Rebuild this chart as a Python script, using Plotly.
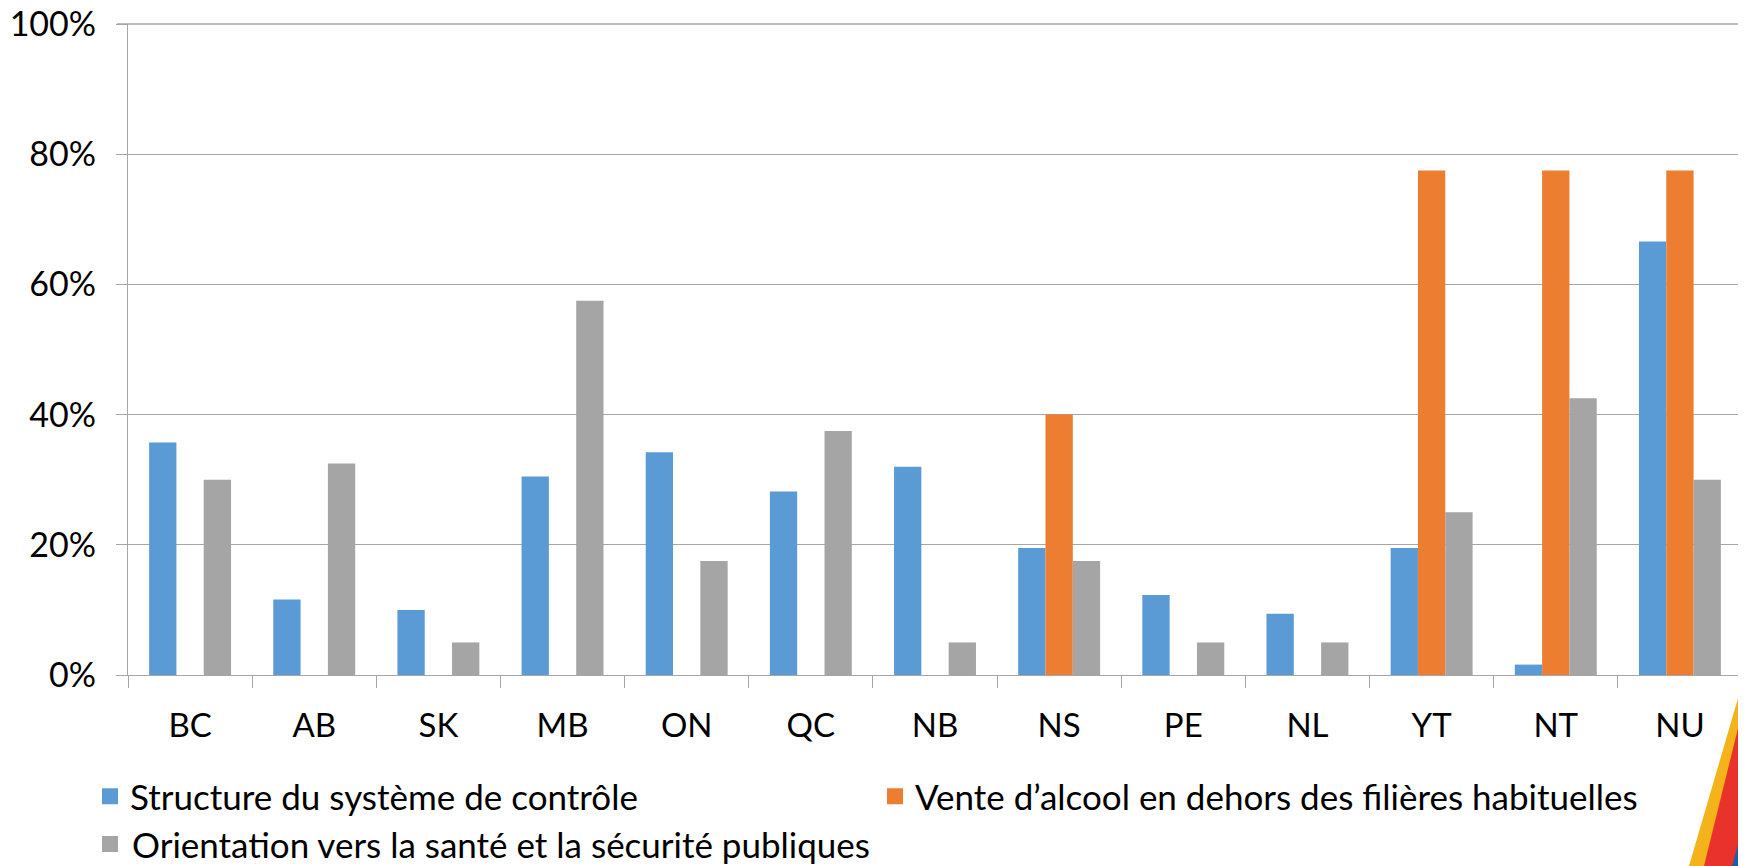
import plotly.graph_objects as go

categories = ["BC", "AB", "SK", "MB", "ON", "QC", "NB", "NS", "PE", "NL", "YT", "NT", "NU"]
structure = [0.357, 0.116, 0.100, 0.305, 0.342, 0.282, 0.320, 0.195, 0.123, 0.094, 0.195, 0.016, 0.666]
vente = [None, None, None, None, None, None, None, 0.40, None, None, 0.775, 0.775, 0.775]
orientation = [0.30, 0.325, 0.05, 0.575, 0.175, 0.375, 0.05, 0.175, 0.05, 0.05, 0.25, 0.425, 0.30]
series_names = [
    "Structure du système de contrôle",
    "Vente d\u2019alcool en dehors des filières habituelles",
    "Orientation vers la santé et la sécurité publiques",
]
colors = ["#5B9BD5", "#ED7D31", "#A5A5A5"]
in_legend_row1 = [True, True, False]

# page body has an 8px margin: the figure is sized to fit the window exactly
OFF = 8
VW, VH = 1746, 866
W, H = VW - OFF, VH - OFF
# plot area in window pixels: x 128..1742, y 24..675
ML = 128 - OFF
MT = 24 - OFF
MR = W - (1742 - OFF)
MB = H - (675 - OFF)
FONT = "Lato, Open Sans, Arial, sans-serif"
GRID = "#A6A6A6"

fig = go.Figure()
for name, vals, col in zip(series_names, [structure, vente, orientation], colors):
    fig.add_trace(go.Bar(x=categories, y=vals, name=name, marker_color=col,
                         marker_line_width=0, showlegend=False))
for name, col, show in zip(series_names, colors, in_legend_row1):
    fig.add_trace(go.Scatter(x=[None], y=[None], mode="markers", name=name, showlegend=show,
                             marker=dict(symbol="square", size=16, color=col)))

# helpers: window pixels -> paper coordinates
pw, ph = W - ML - MR, H - MT - MB
def px(x, y):
    x, y = x - OFF, y - OFF
    return (x - ML) / pw, (H - MB - y) / ph
def path(pts):
    s = ""
    for i, (x, y) in enumerate(pts):
        a, b = px(x, y)
        s += ("M" if i == 0 else "L") + f"{a},{b} "
    return s + "Z"

# decorative slide stripes (bottom-right corner)
stripes = [
    ([(1746, 660), (1746, 866), (1689, 866), (1741, 688)], "#F5B31B"),
    ([(1746, 696), (1746, 866), (1704, 866)], "#E8322B"),
    ([(1746, 815), (1746, 866), (1732, 866)], "#1F5FA8"),
]
shapes = [dict(type="path", xref="paper", yref="paper", path=path(p), fillcolor=c,
               line=dict(width=0), layer="below") for p, c in stripes]
# top gridline (100%) including its tick stub
shapes.append(dict(type="line", xref="paper", yref="paper", x0=-11 / pw, x1=1, y0=1, y1=1,
                   line=dict(color=GRID, width=1.3), layer="below"))

# second legend row (third series): swatch + label
ROW2_Y = 844
sx0, sy0 = px(102, ROW2_Y + 8)
sx1, sy1 = px(118, ROW2_Y - 8)
shapes.append(dict(type="rect", xref="paper", yref="paper", x0=sx0, y0=sy0, x1=sx1, y1=sy1,
                   fillcolor=colors[2], line=dict(width=0)))
tx, ty = px(130, ROW2_Y)
annotations = [dict(text=series_names[2], xref="paper", yref="paper", x=tx, y=ty,
                    xanchor="left", yanchor="middle", showarrow=False,
                    font=dict(family=FONT, size=35, color="#000000"))]

fig.update_layout(
    width=W, height=H,
    margin=dict(l=ML, r=MR, t=MT, b=MB, pad=0, autoexpand=False),
    paper_bgcolor="white", plot_bgcolor="white",
    barmode="group", bargap=0.34, bargroupgap=0,
    font=dict(family=FONT, size=34, color="#000000"),
    shapes=shapes, annotations=annotations,
    legend=dict(orientation="h", xref="container", yref="container",
                xanchor="left", yanchor="top",
                x=(90 - OFF) / W, y=1 - (767 - OFF) / H,
                entrywidth=740, entrywidthmode="pixels",
                font=dict(family=FONT, size=35, color="#000000"),
                itemclick=False, itemdoubleclick=False, bgcolor="rgba(0,0,0,0)"),
)
fig.update_yaxes(range=[0, 1], dtick=0.2, tickformat=".0%", automargin=False,
                 ticklabeloverflow="allow",
                 showgrid=True, gridcolor=GRID, gridwidth=1.3,
                 showline=True, linecolor=GRID, linewidth=1.3,
                 ticks="outside", ticklen=11, tickcolor=GRID, tickwidth=1.3,
                 ticklabelstandoff=13, zeroline=False,
                 tickfont=dict(family=FONT, size=34, color="#000000"))
fig.update_xaxes(showgrid=False, showline=True, linecolor=GRID, linewidth=1.3,
                 ticks="outside", ticklen=12, tickcolor=GRID, tickwidth=1.3,
                 tickson="boundaries", ticklabelstandoff=21, automargin=False,
                 ticklabeloverflow="allow",
                 tickfont=dict(family=FONT, size=33, color="#000000"))

fig.write_html("out.html")
